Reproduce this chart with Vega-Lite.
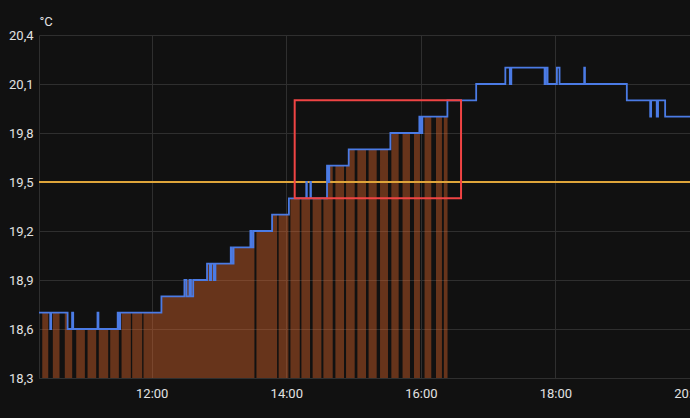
{
  "$schema": "https://vega.github.io/schema/vega-lite/v6.json",
  "width": 651,
  "height": 343,
  "autosize": "none",
  "padding": {"left": 39, "top": 35, "right": 0, "bottom": 40},
  "background": "#111111",
  "config": {
    "view": {"stroke": null},
    "font": "Roboto",
    "axis": {
      "labelFont": "Roboto",
      "labelFontSize": 13,
      "labelColor": "#e2e2e2",
      "gridColor": "#2f2f2f",
      "gridWidth": 1,
      "domainColor": "#2f2f2f",
      "ticks": false
    }
  },
  "datasets": {
    "temps": [
      {"t": "2024-01-01T10:19:30Z", "temp": 18.7},
      {"t": "2024-01-01T10:29:30Z", "temp": 18.6},
      {"t": "2024-01-01T10:30:20Z", "temp": 18.7},
      {"t": "2024-01-01T10:45:00Z", "temp": 18.6},
      {"t": "2024-01-01T10:49:00Z", "temp": 18.7},
      {"t": "2024-01-01T10:50:00Z", "temp": 18.6},
      {"t": "2024-01-01T11:11:40Z", "temp": 18.7},
      {"t": "2024-01-01T11:12:30Z", "temp": 18.6},
      {"t": "2024-01-01T11:29:40Z", "temp": 18.7},
      {"t": "2024-01-01T11:31:00Z", "temp": 18.6},
      {"t": "2024-01-01T11:31:50Z", "temp": 18.7},
      {"t": "2024-01-01T12:08:40Z", "temp": 18.8},
      {"t": "2024-01-01T12:29:10Z", "temp": 18.9},
      {"t": "2024-01-01T12:31:00Z", "temp": 18.8},
      {"t": "2024-01-01T12:33:40Z", "temp": 18.9},
      {"t": "2024-01-01T12:35:00Z", "temp": 18.8},
      {"t": "2024-01-01T12:37:00Z", "temp": 18.9},
      {"t": "2024-01-01T12:49:20Z", "temp": 19.0},
      {"t": "2024-01-01T12:51:50Z", "temp": 18.9},
      {"t": "2024-01-01T12:53:00Z", "temp": 19.0},
      {"t": "2024-01-01T12:55:20Z", "temp": 18.9},
      {"t": "2024-01-01T12:56:50Z", "temp": 19.0},
      {"t": "2024-01-01T13:10:30Z", "temp": 19.1},
      {"t": "2024-01-01T13:11:20Z", "temp": 19.0},
      {"t": "2024-01-01T13:13:00Z", "temp": 19.1},
      {"t": "2024-01-01T13:28:00Z", "temp": 19.2},
      {"t": "2024-01-01T13:29:00Z", "temp": 19.1},
      {"t": "2024-01-01T13:30:40Z", "temp": 19.2},
      {"t": "2024-01-01T13:47:20Z", "temp": 19.3},
      {"t": "2024-01-01T14:02:20Z", "temp": 19.4},
      {"t": "2024-01-01T14:17:50Z", "temp": 19.5},
      {"t": "2024-01-01T14:18:20Z", "temp": 19.4},
      {"t": "2024-01-01T14:21:30Z", "temp": 19.5},
      {"t": "2024-01-01T14:22:00Z", "temp": 19.4},
      {"t": "2024-01-01T14:36:20Z", "temp": 19.6},
      {"t": "2024-01-01T14:37:00Z", "temp": 19.5},
      {"t": "2024-01-01T14:38:20Z", "temp": 19.6},
      {"t": "2024-01-01T14:55:40Z", "temp": 19.7},
      {"t": "2024-01-01T15:32:50Z", "temp": 19.8},
      {"t": "2024-01-01T15:58:40Z", "temp": 19.9},
      {"t": "2024-01-01T15:59:50Z", "temp": 19.8},
      {"t": "2024-01-01T16:01:20Z", "temp": 19.9},
      {"t": "2024-01-01T16:23:40Z", "temp": 20.0},
      {"t": "2024-01-01T16:49:20Z", "temp": 20.1},
      {"t": "2024-01-01T17:15:20Z", "temp": 20.2},
      {"t": "2024-01-01T17:19:20Z", "temp": 20.1},
      {"t": "2024-01-01T17:20:40Z", "temp": 20.2},
      {"t": "2024-01-01T17:50:20Z", "temp": 20.1},
      {"t": "2024-01-01T17:51:20Z", "temp": 20.2},
      {"t": "2024-01-01T17:53:00Z", "temp": 20.1},
      {"t": "2024-01-01T18:01:20Z", "temp": 20.2},
      {"t": "2024-01-01T18:03:40Z", "temp": 20.1},
      {"t": "2024-01-01T18:25:40Z", "temp": 20.2},
      {"t": "2024-01-01T18:26:20Z", "temp": 20.1},
      {"t": "2024-01-01T19:03:40Z", "temp": 20.0},
      {"t": "2024-01-01T19:24:30Z", "temp": 19.9},
      {"t": "2024-01-01T19:25:20Z", "temp": 20.0},
      {"t": "2024-01-01T19:30:20Z", "temp": 19.9},
      {"t": "2024-01-01T19:31:30Z", "temp": 20.0},
      {"t": "2024-01-01T19:37:50Z", "temp": 19.9},
      {"t": "2024-01-01T20:00:00Z", "temp": 19.9}
    ],
    "heating": [
      {"t": "2024-01-01T10:22:24Z", "temp": 18.7},
      {"t": "2024-01-01T10:27:45Z", "temp": 18.7},
      {"t": "2024-01-01T10:27:46Z", "temp": null},
      {"t": "2024-01-01T10:31:51Z", "temp": 18.7},
      {"t": "2024-01-01T10:37:48Z", "temp": 18.7},
      {"t": "2024-01-01T10:37:49Z", "temp": null},
      {"t": "2024-01-01T10:42:30Z", "temp": 18.7},
      {"t": "2024-01-01T10:45:00Z", "temp": 18.6},
      {"t": "2024-01-01T10:49:06Z", "temp": 18.6},
      {"t": "2024-01-01T10:49:07Z", "temp": null},
      {"t": "2024-01-01T10:52:42Z", "temp": 18.6},
      {"t": "2024-01-01T11:00:24Z", "temp": 18.6},
      {"t": "2024-01-01T11:00:25Z", "temp": null},
      {"t": "2024-01-01T11:02:48Z", "temp": 18.6},
      {"t": "2024-01-01T11:10:30Z", "temp": 18.6},
      {"t": "2024-01-01T11:10:31Z", "temp": null},
      {"t": "2024-01-01T11:12:48Z", "temp": 18.6},
      {"t": "2024-01-01T11:21:12Z", "temp": 18.6},
      {"t": "2024-01-01T11:21:13Z", "temp": null},
      {"t": "2024-01-01T11:23:00Z", "temp": 18.6},
      {"t": "2024-01-01T11:29:40Z", "temp": 18.7},
      {"t": "2024-01-01T11:30:42Z", "temp": 18.7},
      {"t": "2024-01-01T11:30:43Z", "temp": null},
      {"t": "2024-01-01T11:33:06Z", "temp": 18.7},
      {"t": "2024-01-01T11:41:24Z", "temp": 18.7},
      {"t": "2024-01-01T11:41:25Z", "temp": null},
      {"t": "2024-01-01T11:42:36Z", "temp": 18.7},
      {"t": "2024-01-01T11:51:30Z", "temp": 18.7},
      {"t": "2024-01-01T11:51:31Z", "temp": null},
      {"t": "2024-01-01T11:52:42Z", "temp": 18.7},
      {"t": "2024-01-01T12:08:40Z", "temp": 18.8},
      {"t": "2024-01-01T12:29:10Z", "temp": 18.9},
      {"t": "2024-01-01T12:49:20Z", "temp": 19.0},
      {"t": "2024-01-01T13:10:30Z", "temp": 19.1},
      {"t": "2024-01-01T13:28:00Z", "temp": 19.2},
      {"t": "2024-01-01T13:31:36Z", "temp": 19.2},
      {"t": "2024-01-01T13:31:37Z", "temp": null},
      {"t": "2024-01-01T13:33:24Z", "temp": 19.2},
      {"t": "2024-01-01T13:47:20Z", "temp": 19.3},
      {"t": "2024-01-01T13:51:48Z", "temp": 19.3},
      {"t": "2024-01-01T13:51:49Z", "temp": null},
      {"t": "2024-01-01T13:53:12Z", "temp": 19.3},
      {"t": "2024-01-01T14:01:54Z", "temp": 19.3},
      {"t": "2024-01-01T14:01:55Z", "temp": null},
      {"t": "2024-01-01T14:03:42Z", "temp": 19.4},
      {"t": "2024-01-01T14:12:00Z", "temp": 19.4},
      {"t": "2024-01-01T14:12:01Z", "temp": null},
      {"t": "2024-01-01T14:13:30Z", "temp": 19.4},
      {"t": "2024-01-01T14:21:12Z", "temp": 19.4},
      {"t": "2024-01-01T14:21:13Z", "temp": null},
      {"t": "2024-01-01T14:23:30Z", "temp": 19.4},
      {"t": "2024-01-01T14:31:18Z", "temp": 19.4},
      {"t": "2024-01-01T14:31:19Z", "temp": null},
      {"t": "2024-01-01T14:33:06Z", "temp": 19.4},
      {"t": "2024-01-01T14:36:20Z", "temp": 19.6},
      {"t": "2024-01-01T14:41:24Z", "temp": 19.6},
      {"t": "2024-01-01T14:41:25Z", "temp": null},
      {"t": "2024-01-01T14:43:48Z", "temp": 19.6},
      {"t": "2024-01-01T14:51:30Z", "temp": 19.6},
      {"t": "2024-01-01T14:51:31Z", "temp": null},
      {"t": "2024-01-01T14:53:18Z", "temp": 19.6},
      {"t": "2024-01-01T14:55:40Z", "temp": 19.7},
      {"t": "2024-01-01T15:01:00Z", "temp": 19.7},
      {"t": "2024-01-01T15:01:01Z", "temp": null},
      {"t": "2024-01-01T15:03:24Z", "temp": 19.7},
      {"t": "2024-01-01T15:11:06Z", "temp": 19.7},
      {"t": "2024-01-01T15:11:07Z", "temp": null},
      {"t": "2024-01-01T15:13:24Z", "temp": 19.7},
      {"t": "2024-01-01T15:20:36Z", "temp": 19.7},
      {"t": "2024-01-01T15:20:37Z", "temp": null},
      {"t": "2024-01-01T15:23:36Z", "temp": 19.7},
      {"t": "2024-01-01T15:30:42Z", "temp": 19.7},
      {"t": "2024-01-01T15:30:43Z", "temp": null},
      {"t": "2024-01-01T15:33:42Z", "temp": 19.8},
      {"t": "2024-01-01T15:40:12Z", "temp": 19.8},
      {"t": "2024-01-01T15:40:13Z", "temp": null},
      {"t": "2024-01-01T15:43:42Z", "temp": 19.8},
      {"t": "2024-01-01T15:50:18Z", "temp": 19.8},
      {"t": "2024-01-01T15:50:19Z", "temp": null},
      {"t": "2024-01-01T15:53:54Z", "temp": 19.8},
      {"t": "2024-01-01T15:58:40Z", "temp": 19.9},
      {"t": "2024-01-01T15:59:12Z", "temp": 19.9},
      {"t": "2024-01-01T15:59:13Z", "temp": null},
      {"t": "2024-01-01T16:03:18Z", "temp": 19.9},
      {"t": "2024-01-01T16:09:18Z", "temp": 19.9},
      {"t": "2024-01-01T16:09:19Z", "temp": null},
      {"t": "2024-01-01T16:13:30Z", "temp": 19.9},
      {"t": "2024-01-01T16:18:48Z", "temp": 19.9},
      {"t": "2024-01-01T16:18:49Z", "temp": null},
      {"t": "2024-01-01T16:20:30Z", "temp": 19.9},
      {"t": "2024-01-01T16:23:48Z", "temp": 19.9},
      {"t": "2024-01-01T16:23:49Z", "temp": null}
    ],
    "setpoint": [{"target": 19.5}],
    "box": [{"start": "2024-01-01T14:07:30Z", "end": "2024-01-01T16:35:50Z", "lo": 19.4, "hi": 20.0}]
  },
  "layer": [
    {
      "data": {"name": "heating"},
      "mark": {"type": "area", "interpolate": "step-after", "color": "#e8682a", "opacity": 0.4, "clip": true},
      "encoding": {
        "x": {
          "field": "t", "type": "temporal",
          "scale": {"type": "utc", "domain": [
            {"year": 2024, "month": 1, "date": 1, "hours": 10, "minutes": 19, "seconds": 30, "utc": true},
            {"year": 2024, "month": 1, "date": 1, "hours": 20, "minutes": 0, "seconds": 0, "utc": true}
          ]},
          "axis": {
            "title": null,
            "format": "%H:%M",
            "values": [
              {"year": 2024, "month": 1, "date": 1, "hours": 12, "utc": true},
              {"year": 2024, "month": 1, "date": 1, "hours": 14, "utc": true},
              {"year": 2024, "month": 1, "date": 1, "hours": 16, "utc": true},
              {"year": 2024, "month": 1, "date": 1, "hours": 18, "utc": true},
              {"year": 2024, "month": 1, "date": 1, "hours": 20, "utc": true}
            ],
            "labelPadding": 9,
            "labelOverlap": false,
            "labelBound": false,
            "labelFlush": false,
            "domain": true,
            "grid": true
          }
        },
        "y": {
          "field": "temp", "type": "quantitative",
          "scale": {"domain": [18.3, 20.4], "nice": false, "zero": false},
          "axis": {
            "values": [18.3, 18.6, 18.9, 19.2, 19.5, 19.8, 20.1, 20.4],
            "labelExpr": "replace(format(datum.value, '.1f'), '.', ',')",
            "labelPadding": 6,
            "grid": true,
            "domain": true,
            "title": "°C",
            "titleAngle": 0,
            "titleX": 0,
            "titleY": -10,
            "titleAlign": "left",
            "titleBaseline": "alphabetic",
            "titleFont": "Roboto",
            "titleFontSize": 13,
            "titleFontWeight": "normal",
            "titleColor": "#e2e2e2"
          }
        }
      }
    },
    {
      "data": {"name": "setpoint"},
      "mark": {"type": "rule", "color": "#dfa53a", "strokeWidth": 2},
      "encoding": {
        "y": {"field": "target", "type": "quantitative"}
      }
    },
    {
      "data": {"name": "temps"},
      "mark": {"type": "line", "interpolate": "step-after", "color": "#4b7be5", "strokeWidth": 1.8, "clip": true},
      "encoding": {
        "x": {"field": "t", "type": "temporal"},
        "y": {"field": "temp", "type": "quantitative"}
      }
    },
    {
      "data": {"name": "box"},
      "mark": {"type": "rect", "fill": "transparent", "stroke": "#f04444", "strokeWidth": 2},
      "encoding": {
        "x": {"field": "start", "type": "temporal"},
        "x2": {"field": "end"},
        "y": {"field": "lo", "type": "quantitative"},
        "y2": {"field": "hi"}
      }
    }
  ]
}
